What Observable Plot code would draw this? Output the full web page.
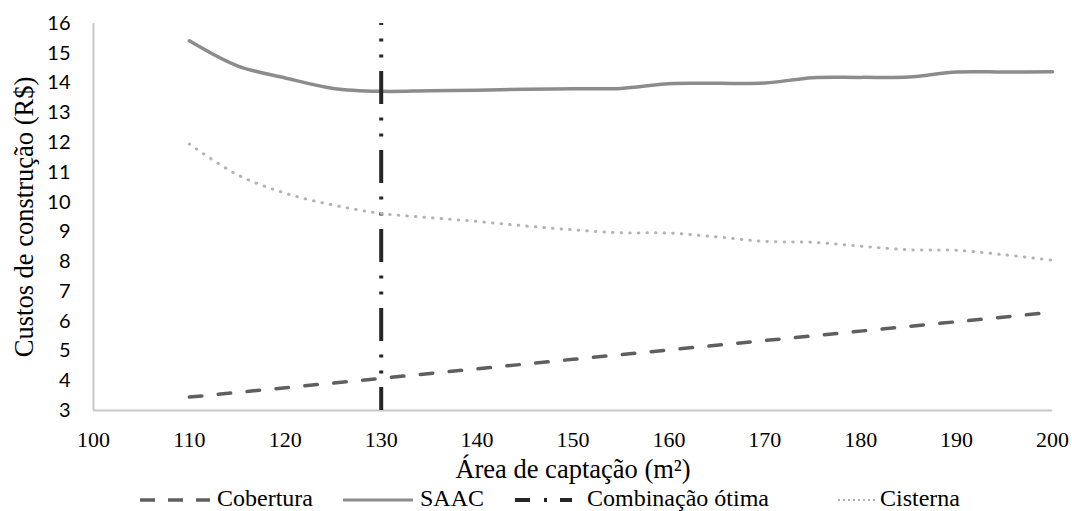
<!DOCTYPE html>
<html><head><meta charset="utf-8">
<script src="https://cdn.jsdelivr.net/npm/d3@7"></script>
<script src="https://cdn.jsdelivr.net/npm/@observablehq/plot@0.6"></script>
<style>
body{margin:0;background:#fff;}
#wrap{position:relative;width:1072px;height:511px;overflow:hidden;background:#fff}
#wrap svg.chart{position:absolute;left:0;top:0}
.li{position:absolute;top:486px;height:24px;font-size:24px;font-family:"Liberation Serif","Times New Roman",Times,"DejaVu Serif",serif;line-height:24px;color:#000;white-space:nowrap}
.sw{position:absolute;top:494px;height:12px}
</style></head><body><div id="wrap"></div>
<script>
const SERIF = '"Liberation Serif","Times New Roman",Times,"DejaVu Serif",serif';
// x values (Área de captação, m²)
const area = [110,115,120,125,130,135,140,145,150,155,160,165,170,175,180,185,190,195,200];
// SAAC cost
const saac = [15.42,14.58,14.17,13.82,13.72,13.74,13.76,13.79,13.81,13.82,13.98,13.99,14.0,14.18,14.19,14.2,14.37,14.37,14.38];
// Cisterna cost
const cisterna = [11.95,10.92,10.3,9.9,9.62,9.48,9.35,9.2,9.07,8.97,8.96,8.83,8.68,8.65,8.52,8.4,8.38,8.23,8.05];
// Cobertura cost (straight line)
const coberturaArea = [110,130,150,170,200];
const cobertura = [3.45,4.08,4.72,5.35,6.3];
// optimum
const otima = [130];
const xTicks = [100,110,120,130,140,150,160,170,180,190,200];
const yTicks = [3,4,5,6,7,8,9,10,11,12,13,14,15,16];
const legendLabels = ["Cobertura","SAAC","Combinação ótima","Cisterna"];

const toRows = (xs, ys) => xs.map((x,i)=>({x, y: ys[i]}));

const chart = Plot.plot({
  width:1072, height:488,
  marginLeft:93, marginRight:20, marginTop:23, marginBottom:78,
  style:{fontFamily:SERIF, background:"white", color:"#000", overflow:"visible"},
  x:{domain:[100,200]},
  y:{domain:[3,16]},
  marks:[
    Plot.ruleY([3],{stroke:"#c8c8c8", strokeWidth:2}),
    Plot.ruleX([100],{stroke:"#c8c8c8", strokeWidth:2}),
    Plot.axisX({ticks:xTicks, tickSize:0, tickPadding:21, fontSize:22, fontFamily:SERIF, tickFormat:d=>String(d),
      label:"Área de captação (m²)", labelAnchor:"center", labelOffset:67, labelArrow:"none"}),
    Plot.axisY({ticks:yTicks, tickSize:0, tickPadding:23, fontSize:20, fontFamily:"Lato", tickFormat:d=>String(d),
      label:"Custos de construção (R$)", labelAnchor:"center", labelOffset:79, labelArrow:"none"}),
    Plot.line(toRows(area, saac), {x:"x", y:"y", stroke:"#8c8c8c", strokeWidth:3.5, curve:"catmull-rom"}),
    Plot.ruleX(otima, {stroke:"#262626", strokeWidth:4, strokeDasharray:"33,13.5,3,13,3,13.5", strokeDashoffset:31}),
    Plot.line(toRows(coberturaArea, cobertura), {x:"x", y:"y", stroke:"#5f5f5f", strokeWidth:3.5, strokeDasharray:"12.5,16.5", strokeLinecap:"round"}),
    Plot.line(toRows(area, cisterna), {x:"x", y:"y", stroke:"#b3b3b3", strokeWidth:3, strokeDasharray:"0.5,8.1", strokeLinecap:"round", curve:"catmull-rom"})
  ]
});
chart.classList.add("chart");
// axis label font
chart.querySelectorAll('g[aria-label="x-axis label"], g[aria-label="y-axis label"]').forEach(g=>{
  g.setAttribute("font-size","26.5");
  g.setAttribute("font-family", SERIF);
  g.querySelectorAll("text").forEach(t=>{t.setAttribute("font-size","26.5"); t.style.fontFamily = SERIF;});
});
chart.querySelectorAll('g[aria-label="x-axis tick label"] text').forEach(t=>{t.style.fontFamily = SERIF;});
const wrap = document.getElementById("wrap");
wrap.appendChild(chart);

// Legend
const legendStyles = [
  {sw:140, w:70, tx:217, stroke:"#5f5f5f", sw_w:3.5, dash:"15,13"},
  {sw:343, w:70, tx:420, stroke:"#8c8c8c", sw_w:3, dash:null},
  {sw:515, w:57, tx:587, stroke:"#262626", sw_w:4, dash:"15,14,3,13"},
  {sw:838, w:40, tx:880, stroke:"#b3b3b3", sw_w:2, dash:"2,3"}
];
legendLabels.forEach((lab,i)=>{
  const s = legendStyles[i];
  const svg = d3.create("svg").attr("class","sw").attr("width", s.w).attr("height", 12).style("left", s.sw+"px");
  const l = svg.append("line").attr("x1",0).attr("x2",s.w).attr("y1",6).attr("y2",6)
    .attr("stroke", s.stroke).attr("stroke-width", s.sw_w);
  if (s.dash) l.attr("stroke-dasharray", s.dash);
  wrap.appendChild(svg.node());
  const d = document.createElement("div");
  d.className = "li"; d.style.left = s.tx + "px"; d.textContent = lab;
  wrap.appendChild(d);
});
</script></body></html>
